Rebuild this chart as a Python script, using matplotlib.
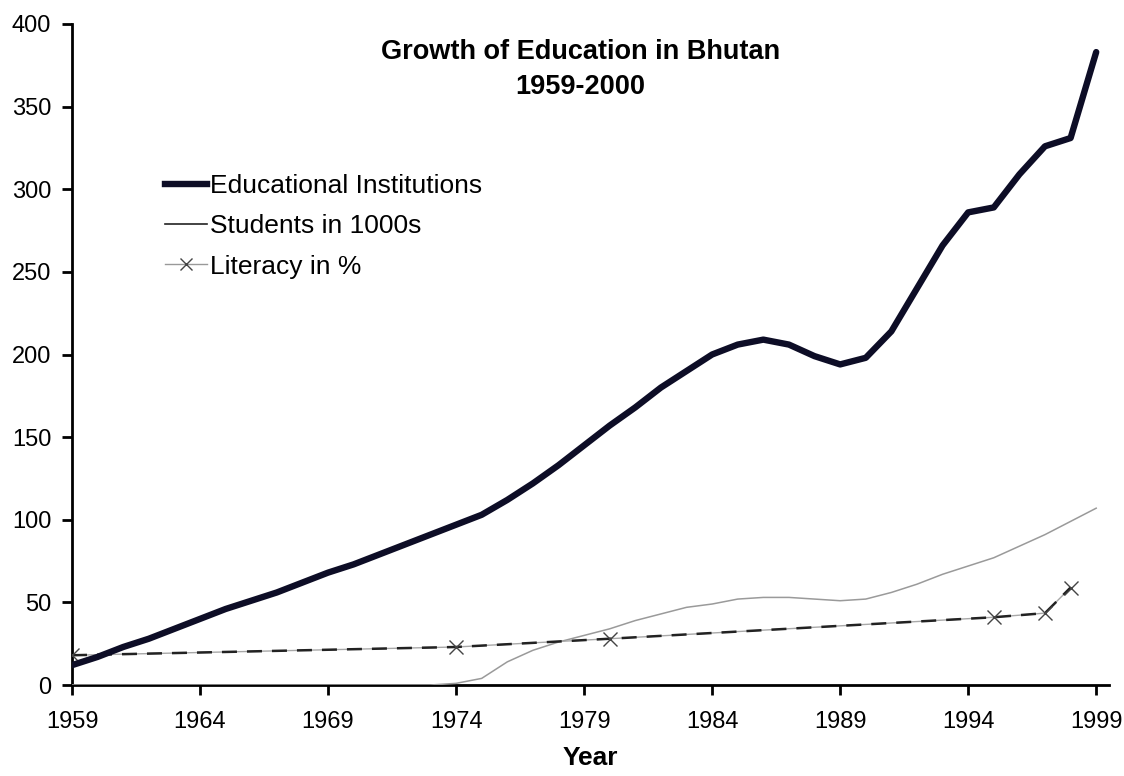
import matplotlib
matplotlib.use("Agg")
import matplotlib.pyplot as plt
from matplotlib.lines import Line2D

plt.rcParams["font.family"] = ["Liberation Sans", "DejaVu Sans"]

# --- data ---
years = list(range(1959, 2000))
institutions = [12, 17, 23, 28, 34, 40, 46, 51, 56, 62,
                68, 73, 79, 85, 91, 97, 103, 112, 122, 133,
                145, 157, 168, 180, 190, 200, 206, 209, 206, 199,
                194, 198, 214, 240, 266, 286, 289, 309, 326, 331,
                383]
students = [0, 0, 0, 0, 0, 0, 0, 0, 0, 0,
            0, 0, 0, 0, 0, 1, 4, 14, 21, 26,
            30, 34, 39, 43, 47, 49, 52, 53, 53, 52,
            51, 52, 56, 61, 67, 72, 77, 84, 91, 99,
            107]
lit_years = [1959, 1974, 1980, 1995, 1997, 1998]
literacy = [18, 23, 28, 41, 43.5, 59]

title = "Growth of Education in Bhutan\n1959-2000"
legend_labels = ["Educational Institutions", "Students in 1000s", "Literacy in %"]

fig = plt.figure(figsize=(11.24, 7.76), dpi=100)
ax = fig.add_axes([72 / 1124, 1 - 685 / 776, (1109 - 72) / 1124, (685 - 24) / 776])

edu_color = "#0d0d26"
ax.plot(years, institutions, color=edu_color, linewidth=4.6,
        solid_capstyle="round", solid_joinstyle="round", zorder=5)
ax.plot(years, students, color="#9a9a9a", linewidth=1.1, zorder=3)
ax.plot(lit_years, literacy, color="#a8a8a8", linewidth=1.0, zorder=3)
ax.plot(lit_years, literacy, color="#222222", linewidth=1.8, linestyle=(0, (6, 4)), zorder=4)
ax.plot(lit_years, literacy, linestyle="none", marker="x", markersize=10,
        markeredgewidth=1.0, color="#444444", zorder=4)

ax.set_xlim(1959, 1999.5)
ax.set_ylim(0, 400)
ax.set_xticks(range(1959, 2000, 5))
ax.set_yticks(range(0, 401, 50))
for s in ["top", "right"]:
    ax.spines[s].set_visible(False)
for s in ["left", "bottom"]:
    ax.spines[s].set_linewidth(2)
    ax.spines[s].set_color("black")
ax.tick_params(axis="both", direction="out", length=7, width=2, labelsize=17)
ax.tick_params(axis="x", pad=12)
ax.tick_params(axis="y", pad=8)
ax.set_xlabel("Year", fontsize=19, fontweight="bold", labelpad=9)

ax.text(0.49, 0.977, title, transform=ax.transAxes, ha="center", va="top",
        fontsize=19.5, fontweight="bold", linespacing=1.45)

handles = [
    Line2D([], [], color=edu_color, linewidth=4.6),
    Line2D([], [], color="#222222", linewidth=1.2),
    Line2D([], [], color="#999999", linewidth=1.0, marker="x", markersize=9,
           markeredgecolor="#444444"),
]
fig.legend(handles, legend_labels, loc="upper left",
           bbox_to_anchor=(165 / 1124, 1 - 174 / 776), frameon=False,
           fontsize=19, handlelength=1.6, handletextpad=0.1, labelspacing=0.62,
           borderpad=0, borderaxespad=0)

fig.savefig("out.png", dpi=100)
